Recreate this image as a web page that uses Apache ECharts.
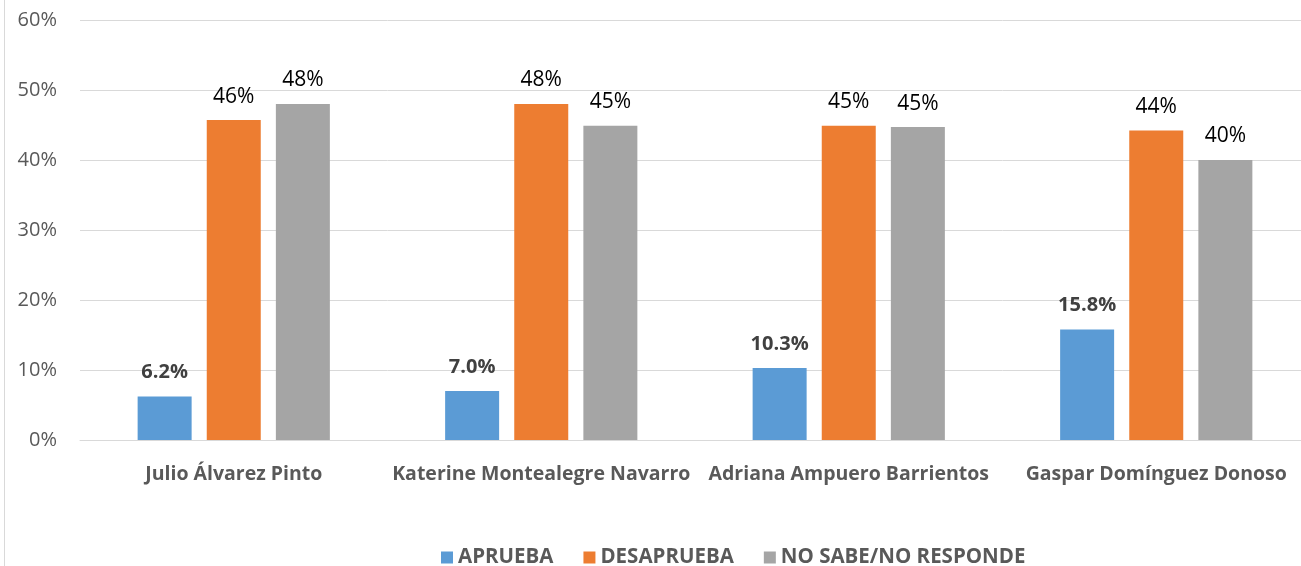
<!DOCTYPE html>
<html><head><meta charset="utf-8">
<script src="https://cdn.jsdelivr.net/npm/echarts@6/dist/echarts.min.js"></script>
<style>html,body{margin:0;padding:0;background:#fff;overflow:hidden}#c{width:1312px;height:566px}</style>
</head><body><div id="c"></div>
<script>
const categories = ['Julio Álvarez Pinto', 'Katerine Montealegre Navarro', 'Adriana Ampuero Barrientos', 'Gaspar Domínguez Donoso'];
const seriesNames = ['APRUEBA', 'DESAPRUEBA', 'NO SABE/NO RESPONDE'];
const aprueba = [6.2, 7.0, 10.3, 15.8];
const desaprueba = [45.7, 48.0, 44.9, 44.2];
const noSabe = [48.0, 44.9, 44.7, 40.0];
const yTicks = [0, 10, 20, 30, 40, 50, 60];

const FONT = 'Open Sans';
const chart = echarts.init(document.getElementById('c'), null, {renderer: 'canvas'});
function lbl(bold, fmt) {
  return {show: true, position: 'top', distance: bold ? 14 : 13, fontFamily: FONT, fontSize: bold ? 20 : 21,
    fontWeight: bold ? 'bold' : 'normal', color: bold ? '#404040' : '#000',
    formatter: p => fmt(p.value)};
}
chart.setOption({
  animation: false,
  textStyle: {fontFamily: FONT},
  grid: {left: 80, top: 20, width: 1230, height: 420, containLabel: false},
  legend: {data: seriesNames, top: 542, left: 436, itemWidth: 12, itemHeight: 12, itemGap: 30,
    icon: 'rect', textStyle: {fontFamily: FONT, fontSize: 20.5, fontWeight: 'bold', color: '#595959'}},
  xAxis: {type: 'category', data: categories,
    axisLine: {lineStyle: {color: '#d9d9d9', width: 1}}, axisTick: {show: false},
    axisLabel: {fontFamily: FONT, fontSize: 19.5, fontWeight: 'bold', color: '#595959', margin: 24, interval: 0}},
  yAxis: {type: 'value', min: 0, max: 60, interval: 10,
    axisLine: {show: false}, axisTick: {show: false},
    splitLine: {lineStyle: {color: '#d9d9d9', width: 1}},
    axisLabel: {fontFamily: FONT, fontSize: 20, color: '#595959', margin: 23,
      formatter: v => yTicks.includes(v) ? v + '%' : ''}},
  graphic: [{type: 'line', shape: {x1: 4.5, y1: 0, x2: 4.5, y2: 566}, style: {stroke: '#d9d9d9', lineWidth: 1}}],
  series: [
    {name: seriesNames[0], type: 'bar', data: aprueba, barWidth: 54, barGap: '28%', itemStyle: {color: '#5b9bd5'},
      label: lbl(true, v => v.toFixed(1) + '%')},
    {name: seriesNames[1], type: 'bar', data: desaprueba, barWidth: 54, barGap: '28%', itemStyle: {color: '#ed7d31'},
      label: lbl(false, v => Math.round(v) + '%')},
    {name: seriesNames[2], type: 'bar', data: noSabe, barWidth: 54, barGap: '28%', itemStyle: {color: '#a5a5a5'},
      label: lbl(false, v => Math.round(v) + '%')}
  ]
});
</script></body></html>
